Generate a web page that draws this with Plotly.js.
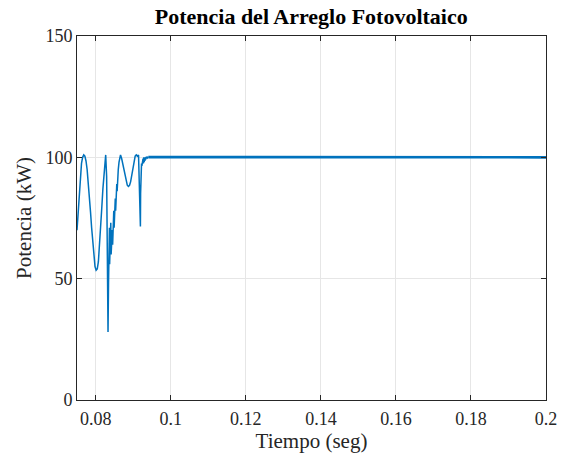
<!DOCTYPE html>
<html>
<head>
<meta charset="utf-8">
<script src="https://cdn.plot.ly/plotly-3.0.1.min.js"></script>
<style>
  html, body { margin: 0; padding: 0; background: #ffffff; }
  #chart { width: 568px; height: 453px; }
</style>
</head>
<body>
<div id="chart"></div>
<script>
// Start-up transient of the PV array power (MPPT tracking), kW vs seconds
const tTransient = [
  0.0750, 0.0753, 0.0756, 0.0759, 0.0762, 0.0765, 0.0768, 0.0771, 0.0774, 0.0777,
  0.0780, 0.0783, 0.0786, 0.0789, 0.0792, 0.0795, 0.0798, 0.0801, 0.0804, 0.0807,
  0.0810, 0.0813, 0.0816, 0.0819, 0.0822, 0.0825, 0.08265, 0.0829, 0.0831, 0.08327,
  0.0834, 0.08345, 0.0835, 0.08365, 0.0837, 0.0838, 0.0839, 0.0840, 0.0841, 0.0842,
  0.0843, 0.0844, 0.0845, 0.0846, 0.0847, 0.0848, 0.0849, 0.0850, 0.0851, 0.0852,
  0.0853, 0.0854, 0.0855, 0.0856, 0.0857, 0.0858, 0.0859, 0.0860, 0.0862, 0.0864,
  0.0866, 0.0869, 0.0872, 0.0875, 0.0878, 0.0881, 0.0884, 0.0887, 0.0890, 0.0893,
  0.0896, 0.0899, 0.0902, 0.0905, 0.0908, 0.0911, 0.0914, 0.09155, 0.0917, 0.0918,
  0.0919, 0.09195, 0.0920, 0.0921, 0.0922, 0.0923, 0.0924, 0.0925, 0.0926, 0.0927,
  0.0928, 0.0929, 0.0930, 0.0931, 0.0932, 0.0933, 0.0934, 0.0935, 0.0936, 0.0938,
  0.0940
];
const pTransient = [
  70, 78, 86, 93, 97.5, 100, 101, 100.5, 98.5, 95,
  90, 84, 77.5, 71, 64.5, 59, 55, 53.5, 54, 57,
  63, 71, 79, 87, 94, 99, 101, 92, 55, 28,
  48, 70, 52, 71, 56, 68, 58, 73, 60, 66,
  62, 70, 64, 75, 67, 78, 71, 80, 74, 83,
  78, 86, 82, 89, 86, 92, 90, 95, 98, 100.5,
  101, 99.5, 97, 94.5, 92, 90, 88.5, 88, 88.5, 90,
  92.5, 95.5, 98.5, 100.5, 101, 100.5, 101, 93, 84, 82,
  71.5, 85, 92, 96, 97.5, 96.5, 99, 97, 99.5, 97.5,
  100, 98, 99.5, 98.5, 100, 99, 100.2, 99.5, 100.3, 99.8,
  100.2
];

// Steady operating point with small switching ripple
const tSteady = [
  0.094, 0.096, 0.098, 0.100, 0.102, 0.104, 0.106, 0.108, 0.110, 0.112,
  0.114, 0.116, 0.118, 0.120, 0.122, 0.124, 0.126, 0.128, 0.130, 0.132,
  0.134, 0.136, 0.138, 0.140, 0.142, 0.144, 0.146, 0.148, 0.150, 0.152,
  0.154, 0.156, 0.158, 0.160, 0.162, 0.164, 0.166, 0.168, 0.170, 0.172,
  0.174, 0.176, 0.178, 0.180, 0.182, 0.184, 0.186, 0.188, 0.190, 0.192,
  0.194, 0.196, 0.198, 0.200
];
const pSteady = [
  100.1, 100.1, 100.1, 100.0, 100.0, 100.0, 99.8, 99.8, 99.9, 100.0,
  100.0, 100.0, 99.9, 99.8, 99.8, 99.8, 99.9, 100.0, 99.9, 100.0,
  100.0, 100.0, 99.9, 100.0, 100.0, 100.0, 100.0, 99.9, 100.0, 100.0,
  99.9, 100.0, 100.0, 100.0, 100.0, 100.0, 100.0, 99.9, 100.0, 100.0,
  100.0, 100.0, 100.0, 100.0, 100.0, 100.0, 100.0, 100.0, 100.0, 100.0,
  100.0, 100.0, 100.0, 100.0
];

const xTicks = [0.08, 0.1, 0.12, 0.14, 0.16, 0.18, 0.2];
const xTickText = ['0.08', '0.1', '0.12', '0.14', '0.16', '0.18', '0.2'];
const yTicks = [0, 50, 100, 150];

const lineColor = '#0072BD';
const serif = '"Liberation Serif", "Times New Roman", serif';

const traces = [
  {
    x: tTransient, y: pTransient, type: 'scatter', mode: 'lines',
    line: { color: lineColor, width: 1.5 }, hoverinfo: 'skip'
  },
  {
    x: tSteady, y: pSteady, type: 'scatter', mode: 'lines',
    line: { color: lineColor, width: 2.6 }, hoverinfo: 'skip'
  }
];

const axisCommon = {
  showgrid: true, gridcolor: '#e6e6e6', gridwidth: 1,
  zeroline: false,
  showline: true, linecolor: '#262626', linewidth: 1,
  mirror: 'ticks', ticks: 'inside', ticklen: 5, tickcolor: '#262626',
  tickfont: { family: serif, size: 18, color: '#262626' }
};

const layout = {
  width: 568, height: 453,
  margin: { l: 77, r: 22, t: 36, b: 53 },
  paper_bgcolor: '#ffffff', plot_bgcolor: '#ffffff',
  showlegend: false,
  title: {
    text: '<b>Potencia del Arreglo Fotovoltaico</b>',
    font: { family: serif, size: 22, color: '#000000' },
    x: 0.548, xanchor: 'center', y: 0.963, yanchor: 'middle'
  },
  xaxis: Object.assign({}, axisCommon, {
    range: [0.075, 0.2],
    tickvals: xTicks, ticktext: xTickText,
    ticklabelstandoff: 2,
    title: { text: 'Tiempo (seg)', font: { family: serif, size: 21, color: '#262626' }, standoff: 6 }
  }),
  yaxis: Object.assign({}, axisCommon, {
    range: [0, 150],
    tickvals: yTicks,
    title: { text: 'Potencia (kW)', font: { family: serif, size: 21, color: '#262626' }, standoff: 8 }
  })
};

Plotly.newPlot('chart', traces, layout, { staticPlot: true, displayModeBar: false });
</script>
</body>
</html>
